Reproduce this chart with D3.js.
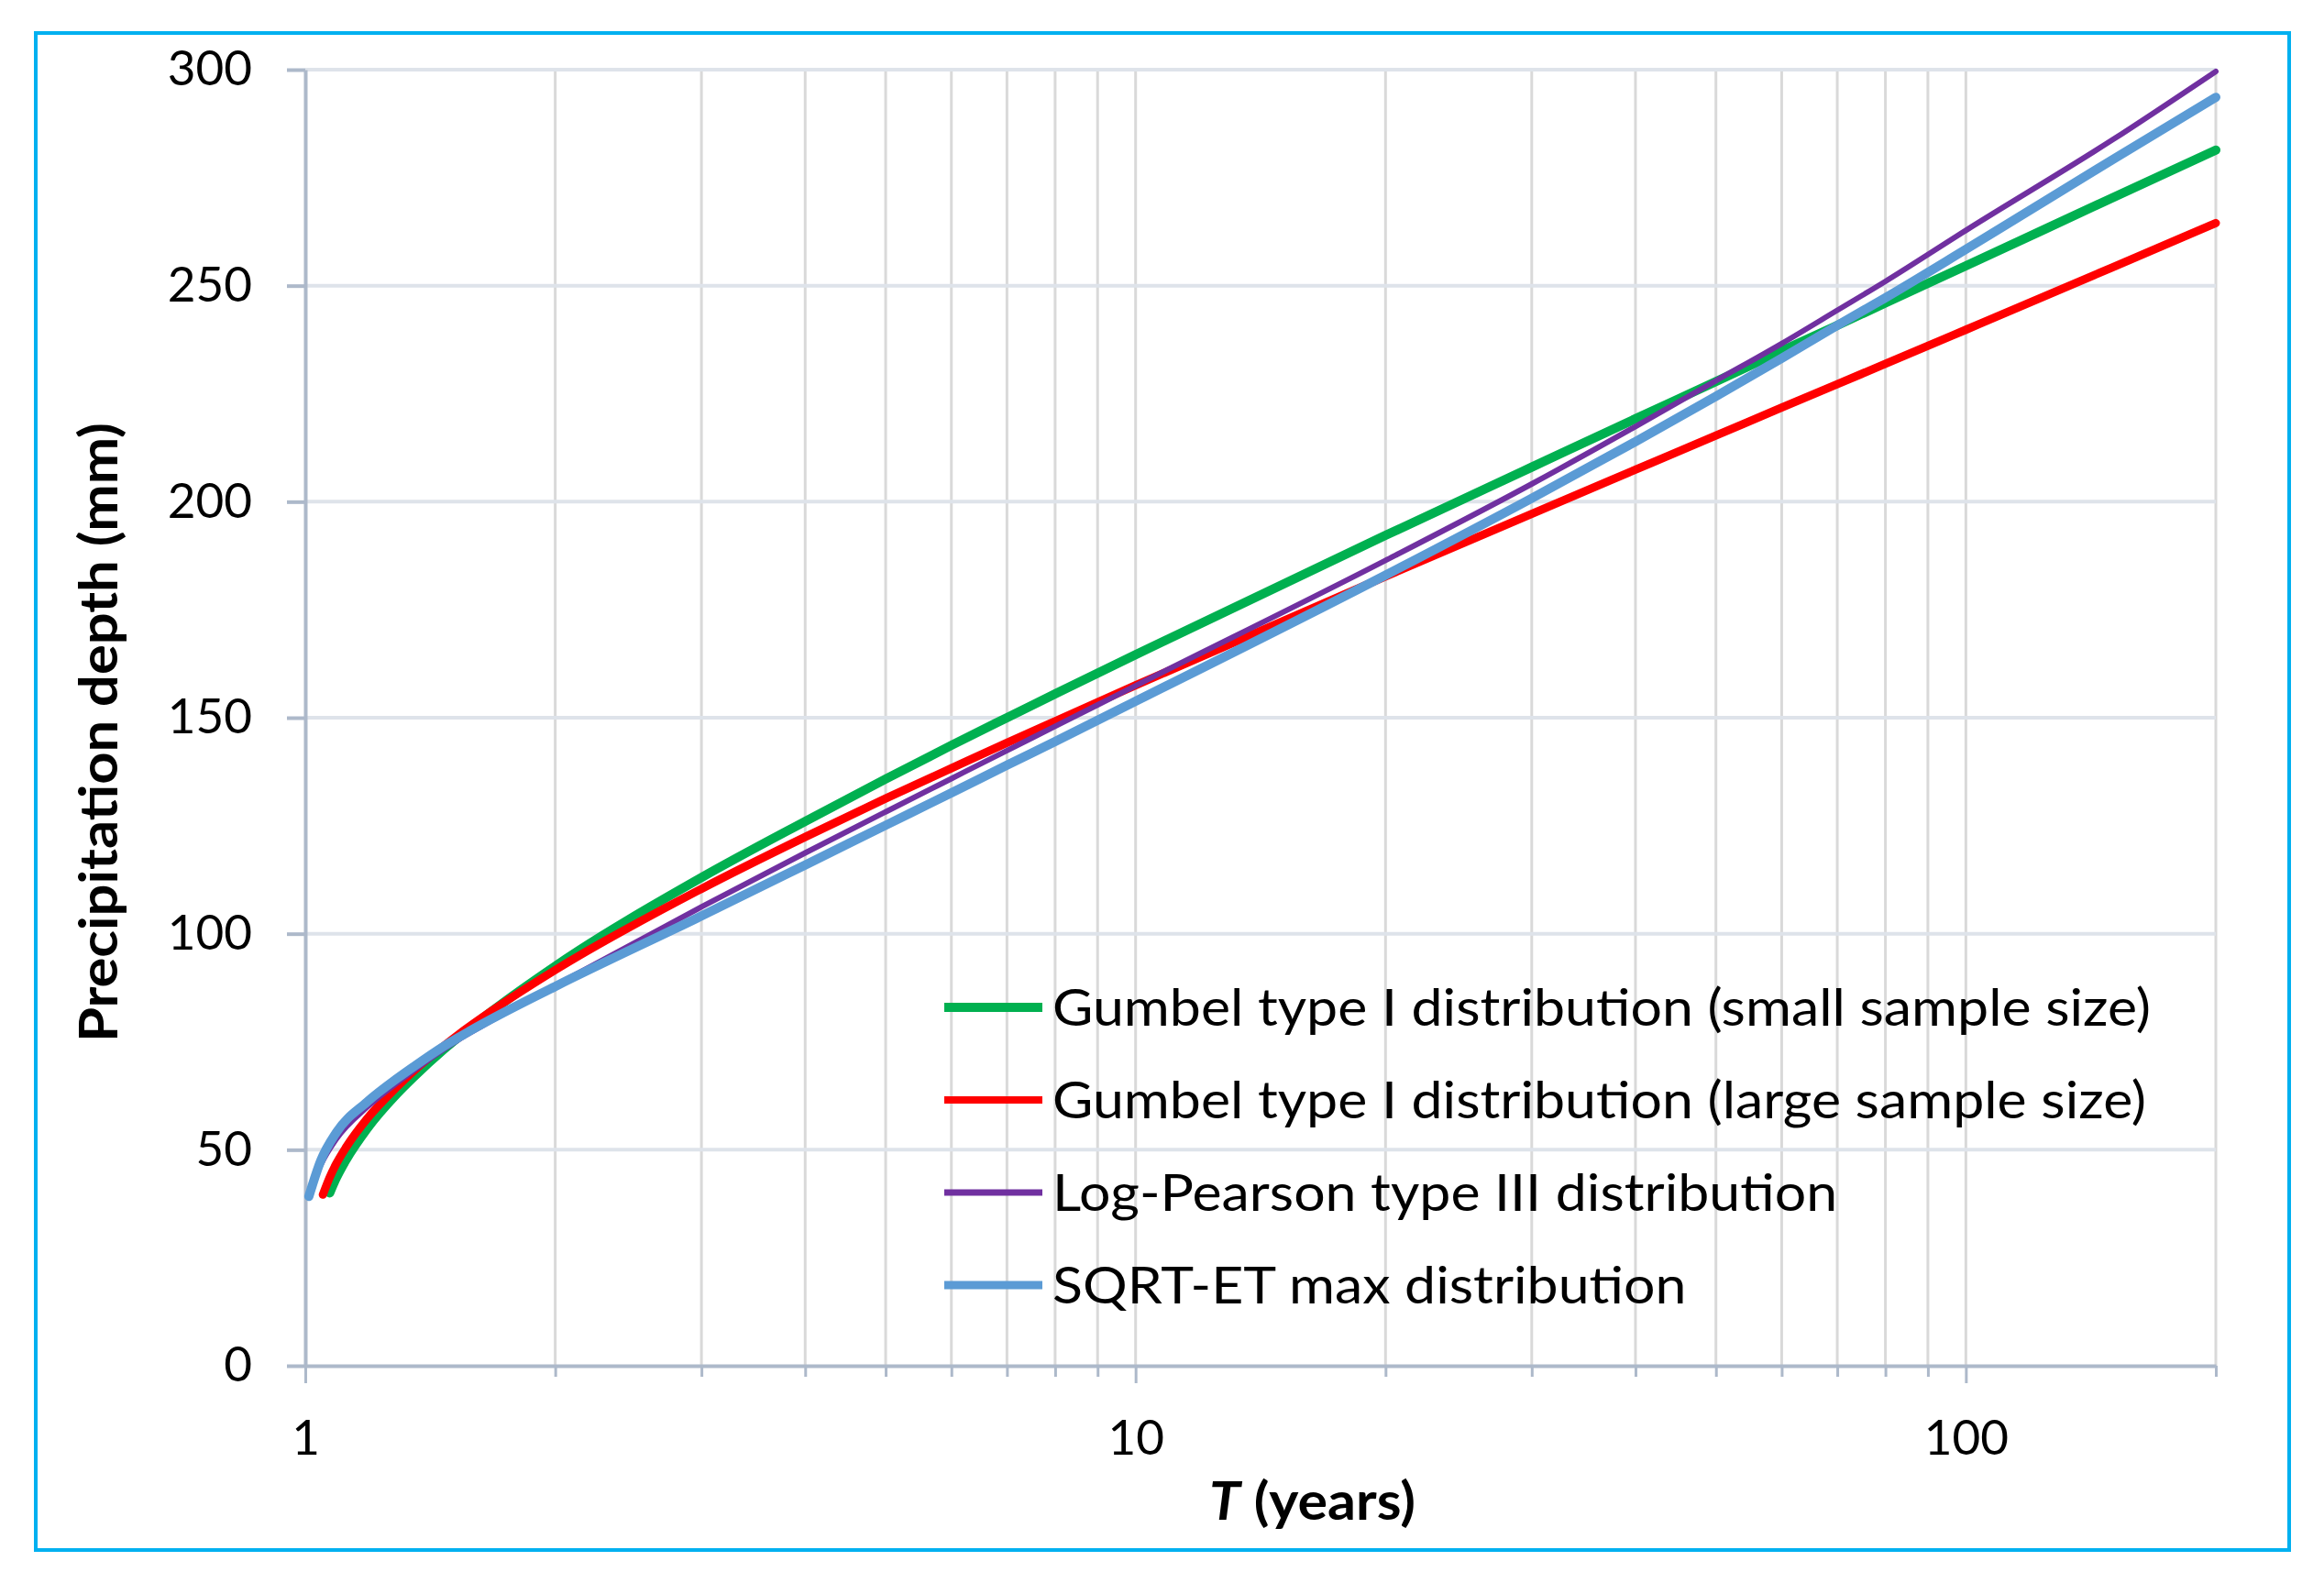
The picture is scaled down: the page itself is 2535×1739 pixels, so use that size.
<!DOCTYPE html>
<html>
<head>
<meta charset="utf-8">
<script src="https://cdn.jsdelivr.net/npm/d3@7"></script>
<style>
  html, body { margin: 0; padding: 0; background: #ffffff; }
  svg { display: block; }
  text { font-family: Lato, "Open Sans", "Liberation Sans", sans-serif; fill: #000; }
</style>
</head>
<body>
<svg id="chart" width="2535" height="1739"></svg>
<script>
// ---------------- DATA ----------------
const seriesNames = [
  "Gumbel type I distribution (small sample size)",
  "Gumbel type I distribution (large sample size)",
  "Log-Pearson type III distribution",
  "SQRT-ET max distribution"
];

// Return period T (years) and precipitation depth (mm)
const tGumbelSmall = [1.07, 1.09, 1.12, 1.186, 1.29, 1.35, 1.47, 1.53, 1.67, 2, 3, 4, 5, 6, 7, 8, 10, 20, 30, 40, 50, 60, 70, 80, 100, 150, 200];
const vGumbelSmall = [40, 43.5, 47.7, 54.8, 63, 66.8, 73.3, 76.1, 81.8, 92.5, 113, 126, 135.8, 143.6, 150, 155.5, 164.6, 192.2, 208, 219.2, 227.8, 234.9, 240.8, 246, 254.6, 270.3, 281.4];

const tGumbelLarge = [1.05, 1.07, 1.09, 1.12, 1.186, 1.29, 1.35, 1.47, 1.53, 1.67, 2, 3, 4, 5, 6, 7, 8, 10, 20, 30, 40, 50, 60, 70, 80, 100, 150, 200];
const vGumbelLarge = [39.6, 43.6, 46.8, 50.6, 57.1, 64.6, 68.2, 74.1, 76.7, 81.9, 91.6, 110.4, 122.4, 131.3, 138.3, 144.2, 149.2, 157.5, 182.7, 197.2, 207.4, 215.3, 221.8, 227.2, 231.9, 239.8, 254.2, 264.5];

const tLogPearson = [1.012, 1.044, 1.09, 1.186, 1.29, 1.35, 1.47, 1.53, 1.67, 2, 3, 4, 5, 6, 7, 8, 10, 20, 30, 40, 50, 60, 70, 80, 100, 150, 200];
const vLogPearson = [40, 46.5, 52.5, 59.8, 65.5, 68.3, 73.3, 75.5, 79.7, 88, 106.2, 118.7, 128.2, 135.9, 142.4, 148, 157.4, 186.4, 204.1, 217.4, 228, 236.6, 244.3, 251, 262.8, 283.7, 299.6];

const tSqrtEt = [1.01, 1.044, 1.09, 1.186, 1.29, 1.35, 1.47, 1.53, 1.67, 2, 3, 4, 5, 6, 7, 8, 10, 20, 30, 40, 50, 60, 70, 80, 100, 150, 200];
const vSqrtEt = [39.2, 47.5, 54, 61, 66.5, 69.2, 74, 76, 80.1, 87.8, 104.1, 115.9, 125.1, 132.6, 139, 144.5, 153.8, 183, 200.8, 213.9, 224.4, 233.2, 240.8, 247.2, 258.4, 279.1, 293.6];

const yTickValues = [0, 50, 100, 150, 200, 250, 300];
const xMajorTicks = [1, 10, 100];
const xMinorTicks = [2, 3, 4, 5, 6, 7, 8, 9, 20, 30, 40, 50, 60, 70, 80, 90, 200];
const xDomain = [1, 200];
const yDomain = [0, 300];
const xTitle = "T";
const xTitleRest = " (years)";
const yTitle = "Precipitation depth (mm)";

// ---------------- STYLE ----------------
const seriesColors = ["#00B050", "#FF0000", "#7030A0", "#5B9BD5"];
const seriesWidths = [10, 9, 6, 10];
const legendWidths = [10, 8, 7, 9];

// ---------------- CHART ----------------
const svg = d3.select("#chart");
svg.append("rect").attr("width", 2535).attr("height", 1739).attr("fill", "#fff");

const plot = { left: 333, right: 2417, top: 76, bottom: 1490 };
const x = d3.scaleLog().domain(xDomain).range([plot.left, plot.right]);
const y = d3.scaleLinear().domain(yDomain).range([plot.bottom, plot.top]);

// outer border
svg.append("rect")
  .attr("x", 39).attr("y", 36).attr("width", 2458).attr("height", 1655)
  .attr("fill", "none").attr("stroke", "#00B0F0").attr("stroke-width", 4);

// vertical gridlines
const allX = xMajorTicks.concat(xMinorTicks).filter(d => d > xDomain[0]).sort((a, b) => a - b);
svg.append("g").selectAll("line").data(allX).join("line")
  .attr("x1", d => x(d)).attr("x2", d => x(d))
  .attr("y1", plot.top).attr("y2", plot.bottom)
  .attr("stroke", "#D9D9D9").attr("stroke-width", 3);

// horizontal gridlines
svg.append("g").selectAll("line").data(yTickValues.filter(d => d > 0)).join("line")
  .attr("x1", plot.left).attr("x2", plot.right)
  .attr("y1", d => y(d)).attr("y2", d => y(d))
  .attr("stroke", "#DEE3EA").attr("stroke-width", 4);

const axisColor = "#ADB9CA";

// Y axis
const yAxisG = svg.append("g").attr("transform", `translate(${plot.left},0)`)
  .call(d3.axisLeft(y).tickValues(yTickValues).tickSize(20).tickSizeOuter(0).tickPadding(38));
yAxisG.select(".domain").attr("stroke", axisColor).attr("stroke-width", 4);
yAxisG.selectAll(".tick line").attr("stroke", axisColor).attr("stroke-width", 4);
yAxisG.selectAll(".tick text").attr("font-size", 53).attr("font-family", "Lato, 'Open Sans', sans-serif").attr("fill", "#000");

// X axis
const xTickAll = [1].concat(allX);
const xAxisG = svg.append("g").attr("transform", `translate(0,${plot.bottom})`)
  .call(d3.axisBottom(x).tickValues(xTickAll).tickSize(12).tickSizeOuter(0)
    .tickFormat(d => xMajorTicks.includes(d) ? String(d) : ""));
xAxisG.select(".domain").attr("stroke", axisColor).attr("stroke-width", 4);
xAxisG.selectAll(".tick line").attr("stroke", axisColor).attr("stroke-width", 3)
  .attr("y2", d => xMajorTicks.includes(d) ? 19 : 12);
xAxisG.selectAll(".tick text").attr("font-size", 53).attr("font-family", "Lato, 'Open Sans', sans-serif")
  .attr("fill", "#000").attr("y", 97).attr("dy", 0);

// series lines
const seriesData = [
  tGumbelSmall.map((t, i) => [t, vGumbelSmall[i]]),
  tGumbelLarge.map((t, i) => [t, vGumbelLarge[i]]),
  tLogPearson.map((t, i) => [t, vLogPearson[i]]),
  tSqrtEt.map((t, i) => [t, vSqrtEt[i]])
];
const line = d3.line().x(d => x(d[0])).y(d => y(d[1])).curve(d3.curveMonotoneX);
svg.append("g").selectAll("path").data(seriesData).join("path")
  .attr("d", line)
  .attr("fill", "none")
  .attr("stroke", (d, i) => seriesColors[i])
  .attr("stroke-width", (d, i) => seriesWidths[i])
  .attr("stroke-linecap", "round")
  .attr("stroke-linejoin", "round");

// legend
const legend = svg.append("g");
const legendRowY = i => 1099 + i * 101;
legend.selectAll("line").data(seriesNames).join("line")
  .attr("x1", 1030).attr("x2", 1137)
  .attr("y1", (d, i) => legendRowY(i)).attr("y2", (d, i) => legendRowY(i))
  .attr("stroke", (d, i) => seriesColors[i])
  .attr("stroke-width", (d, i) => legendWidths[i]);
const legendTexts = legend.selectAll("text").data(seriesNames).join("text")
  .attr("x", 1148).attr("y", (d, i) => legendRowY(i) + 20)
  .attr("font-size", 56)
  .text(d => d);
const firstNatural = legendTexts.nodes()[0].getComputedTextLength();
const condense = 1198 / firstNatural;
legendTexts.each(function () {
  const w = this.getComputedTextLength();
  d3.select(this).attr("textLength", w * condense).attr("lengthAdjust", "spacingAndGlyphs");
});

// Y title
svg.append("text")
  .attr("transform", "translate(128,799) rotate(-90)")
  .attr("text-anchor", "middle")
  .attr("font-size", 58).attr("font-weight", "bold")
  .attr("textLength", 676).attr("lengthAdjust", "spacingAndGlyphs")
  .text(yTitle);

// X title
const xt = svg.append("g").attr("transform", "translate(1319,1658)");
const xtText = xt.append("text").attr("font-size", 57).attr("font-weight", "bold");
xtText.append("tspan").attr("font-style", "italic").text(xTitle);
xtText.append("tspan").text(xTitleRest);
const xtW = xtText.node().getComputedTextLength();
xtText.attr("transform", `scale(${225 / xtW},1)`);
</script>
</body>
</html>
